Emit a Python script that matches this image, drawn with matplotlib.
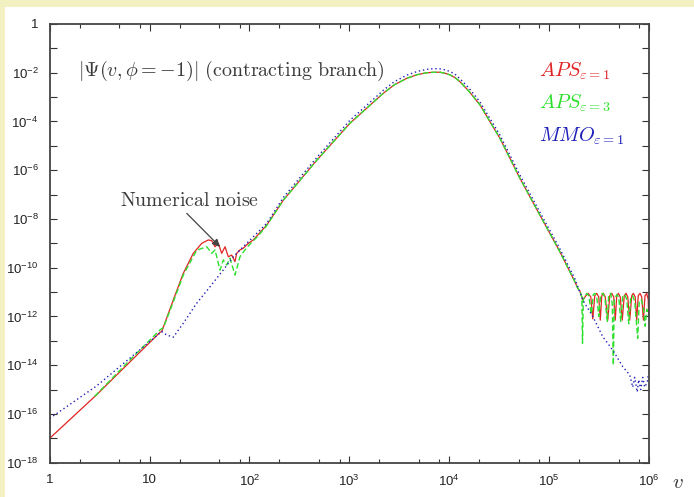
import numpy as np
import matplotlib.pyplot as plt
from matplotlib.patches import Rectangle

plt.rcParams['font.family'] = 'Liberation Sans'
plt.rcParams['mathtext.fontset'] = 'custom'
plt.rcParams['mathtext.rm'] = 'Liberation Sans'
plt.rcParams['mathtext.it'] = 'Liberation Sans:italic'
plt.rcParams['mathtext.bf'] = 'Liberation Sans:bold'

# log10(v) and log10|Psi| for each run
aps1_logv = [0, 0.468, 1.105, 1.122, 1.238, 1.338, 1.438, 1.523, 1.589, 1.623, 1.656,
             1.689, 1.723, 1.756, 1.789, 1.823, 1.856, 1.873, 1.906, 1.939, 1.989, 2.04,
             2.107, 2.174, 2.34, 2.675, 3.008, 3.342, 3.45, 3.576, 3.68, 3.776, 3.85, 3.91,
             3.96, 4.01, 4.06, 4.11, 4.2, 4.31, 4.51, 4.71, 4.91, 5.11, 5.26, 5.29, 5.31, 5.34,
             5.37, 5.394, 5.42, 5.44, 5.46, 5.479, 5.50, 5.515, 5.53, 5.546, 5.565, 5.59,
             5.61, 5.63, 5.65, 5.665, 5.68, 5.696, 5.715, 5.735, 5.755, 5.773, 5.79, 5.81,
             5.83, 5.846, 5.865, 5.88, 5.895, 5.913, 5.93, 5.947, 5.963, 5.98, 5.995, 6.0]
aps1_logpsi = [-17.0, -15.22, -12.65, -12.62, -11.32, -10.23, -9.41, -9.0, -8.86, -8.89, -9.14,
               -9.0, -9.41, -9.14, -9.55, -9.48, -9.75, -9.41, -9.27, -9.2, -9.0, -8.86,
               -8.55, -8.25, -7.23, -5.59, -4.07, -2.84, -2.5, -2.23, -2.08, -2.0, -1.98, -1.98,
               -2.02, -2.09, -2.2, -2.37, -2.76, -3.32, -4.69, -6.33, -7.84, -9.34, -10.57, -10.85, -10.95, -11.33,
               -11.15, -11.05, -11.2, -12.1, -11.15, -11.05, -11.2, -12.15, -11.15, -11.05, -11.2, -12.15,
               -11.15, -11.05, -11.2, -12.15, -11.15, -11.05, -11.2, -12.15, -11.15, -11.05, -11.2, -12.15,
               -11.15, -11.05, -11.2, -12.15, -11.15, -11.05, -11.2, -12.15, -11.15, -11.05, -11.3, -12.0]

aps3_logv = [0.45, 0.8, 1.105, 1.14, 1.238, 1.338, 1.473, 1.573, 1.623, 1.656, 1.706,
             1.739, 1.773, 1.806, 1.856, 1.906, 1.956, 2.006, 2.087, 2.174, 2.34, 2.675,
             3.008, 3.342, 3.45, 3.576, 3.68, 3.776, 3.85, 3.91, 3.96, 4.01, 4.06, 4.11,
             4.2, 4.31, 4.51, 4.71, 4.91, 5.11,
             5.26, 5.29, 5.31, 5.33, 5.337, 5.345, 5.36, 5.38, 5.40, 5.425, 5.445, 5.46,
             5.48, 5.50, 5.52, 5.54, 5.56, 5.585, 5.60, 5.62, 5.635, 5.646, 5.655, 5.68,
             5.70, 5.72, 5.74, 5.76, 5.78, 5.80, 5.82, 5.84, 5.86, 5.89, 5.905, 5.925,
             5.945, 5.965, 5.98, 6.0]
aps3_logpsi = [-15.28, -13.8, -12.55, -12.45, -11.4, -10.3, -9.28, -9.14, -9.41, -9.27, -10.1,
               -9.68, -9.89, -9.61, -10.3, -9.55, -9.27, -9.03, -8.7, -8.27, -7.23, -5.59,
               -4.07, -2.84, -2.5, -2.23, -2.08, -2.0, -1.98, -1.98, -2.02, -2.09, -2.2, -2.37,
               -2.76, -3.32, -4.69, -6.33, -7.84, -9.34,
               -10.57, -10.85, -10.95, -11.2, -13.1, -11.3, -11.2, -11.05, -11.15, -11.9, -11.1, -11.05,
               -11.2, -12.0, -11.1, -11.05, -11.2, -12.2, -11.1, -11.05, -11.5, -14.0, -11.3, -11.1,
               -11.2, -12.2, -11.15, -11.1, -11.3, -12.3, -11.2, -11.15, -11.4, -12.9, -11.4, -11.3,
               -11.6, -12.4, -11.7, -12.0]

mmo_logv = [0, 0.47, 1.122, 1.172, 1.238, 1.338, 1.472, 1.606, 1.739, 1.839, 1.973, 2.174,
            2.34, 2.675, 3.008, 3.342, 3.45, 3.576, 3.68, 3.776, 3.85, 3.91, 3.96, 4.01,
            4.06, 4.11, 4.2, 4.31, 4.51, 4.71, 4.91, 5.11, 5.26, 5.34, 5.44, 5.54, 5.64,
            5.74, 5.81, 5.84, 5.86, 5.885, 5.90, 5.92, 5.94, 5.96, 5.985, 6.0]
mmo_logpsi = [-16.18, -14.85, -12.62, -12.76, -12.85, -12.28, -11.46, -10.78, -10.09, -9.55, -9.0, -8.18,
              -7.12, -5.48, -3.95, -2.72, -2.37, -2.1, -1.95, -1.86, -1.83, -1.84, -1.88, -1.95,
              -2.06, -2.25, -2.63, -3.2, -4.56, -6.2, -7.72, -9.22, -10.45, -11.33, -12.0, -12.83, -13.38,
              -14.06, -14.4, -14.9, -14.5, -15.1, -14.6, -15.0, -14.5, -14.9, -14.7, -14.3]

ytick_exps = list(range(-18, 1))
xtick_exps = list(range(0, 7))
xtick_labels = ['1', '10', r'$10^{2}$', r'$10^{3}$', r'$10^{4}$', r'$10^{5}$', r'$10^{6}$']

fig = plt.figure(figsize=(6.94, 4.97), dpi=100)
fig.patch.set_facecolor('white')
# cream page strips along the top and left edges
fig.patches.append(Rectangle((0, 1 - 7 / 497), 1, 7 / 497, transform=fig.transFigure,
                             facecolor='#f3f0c2', edgecolor='none', zorder=0))
fig.patches.append(Rectangle((0, 0), 5 / 694, 1, transform=fig.transFigure,
                             facecolor='#f3f0c2', edgecolor='none', zorder=0))

ax = fig.add_axes([49.7 / 694, 1 - 462.7 / 497, 599 / 694, 438.7 / 497])

ax.plot(10 ** np.array(aps1_logv), 10 ** np.array(aps1_logpsi), color='#e02424', lw=0.9)
ax.plot(10 ** np.array(aps3_logv), 10 ** np.array(aps3_logpsi), color='#2ee02e', lw=1.0,
        dashes=(4, 2))
ax.plot(10 ** np.array(mmo_logv), 10 ** np.array(mmo_logpsi), color='#2020b8', lw=1.0,
        dashes=(1, 2))

ax.set_xscale('log')
ax.set_yscale('log')
ax.set_xlim(1, 1e6)
ax.set_ylim(1e-18, 1)

ax.set_xticks([10.0 ** e for e in xtick_exps])
ax.set_xticklabels(xtick_labels)
ax.set_xticks([m * 10.0 ** e for e in range(0, 6) for m in (2, 5, 8)], minor=True)
ax.set_xticklabels([], minor=True)
ax.set_yticks([10.0 ** e for e in ytick_exps])
ax.set_yticklabels([('1' if e == 0 else r'$10^{%d}$' % e) if e % 2 == 0 else ''
                    for e in ytick_exps])
ax.set_yticks([], minor=True)

ax.tick_params(which='both', direction='in', top=True, right=True, width=0.8,
               colors='#333333', labelcolor='#222222', labelsize=9.5, pad=8)
ax.tick_params(which='major', length=5)
ax.tick_params(which='minor', length=3)
for sp in ax.spines.values():
    sp.set_color('#444444')
    sp.set_linewidth(1.3)

ax.text(0.047, 0.893, r'$|\Psi(v,\phi=-1)|\ \mathrm{(contracting\ branch)}$',
        transform=ax.transAxes, fontsize=14.4, color='#3a3a3a', va='center', ha='left',
        math_fontfamily='cm')

ax.text(0.817, 0.893, r'$APS_{\varepsilon=1}$', transform=ax.transAxes, fontsize=14.6,
        color='#e02424', va='center', math_fontfamily='cm')
ax.text(0.817, 0.820, r'$APS_{\varepsilon=3}$', transform=ax.transAxes, fontsize=14.6,
        color='#2ee02e', va='center', math_fontfamily='cm')
ax.text(0.817, 0.744, r'$MMO_{\varepsilon=1}$', transform=ax.transAxes, fontsize=14.6,
        color='#2020b8', va='center', math_fontfamily='cm')

ax.text(24.9, 6e-8, r'$\mathrm{Numerical\ noise}$', fontsize=14.3, color='#3a3a3a',
        ha='center', va='center', math_fontfamily='cm')
ax.annotate('', xy=(50.8, 7.2e-10), xytext=(23.6, 1.7e-8),
            arrowprops=dict(arrowstyle='-|>', color='#444444', lw=0.9,
                            mutation_scale=11, shrinkA=0, shrinkB=0))

fig.text(678 / 694, 1 - 483 / 497, r'$v$', fontsize=15, color='#333333',
         ha='center', va='center', math_fontfamily='cm')

fig.savefig('out.png', dpi=100)
